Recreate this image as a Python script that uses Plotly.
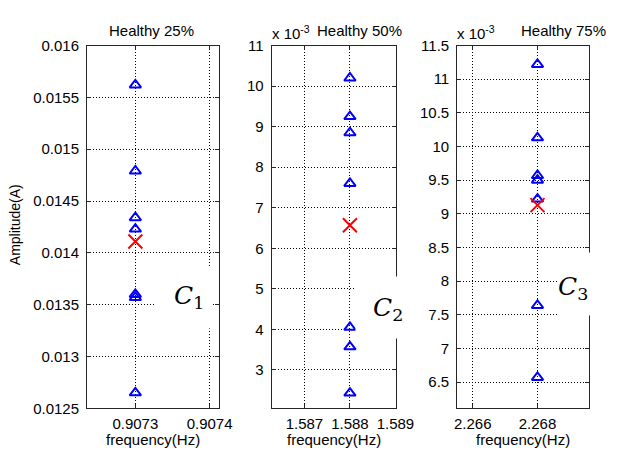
import plotly.graph_objects as go

W, H = 625, 453

# ---------------- data ----------------
panel_titles = ["Healthy 25%", "Healthy 50%", "Healthy 75%"]
freq = [0.9073, 1.588, 2.268]

amp25_tri = [0.01562, 0.01479, 0.01434, 0.01423, 0.01360, 0.01357, 0.01265]
amp25_x = [0.01411]
amp50_tri = [0.01020, 0.00925, 0.00885, 0.00760, 0.00405, 0.00357, 0.00243]
amp50_x = [0.00657]
amp75_tri = [0.01122, 0.01013, 0.00957, 0.00950, 0.00922, 0.00764, 0.00657]
amp75_x = [0.00913]

x1_ticks = [0.9073, 0.9074]
x1_labels = ["0.9073", "0.9074"]
x2_ticks = [1.587, 1.588, 1.589]
x2_labels = ["1.587", "1.588", "1.589"]
x3_ticks = [2.266, 2.268]
x3_labels = ["2.266", "2.268"]

y1_ticks = [0.0125, 0.013, 0.0135, 0.014, 0.0145, 0.015, 0.0155, 0.016]
y1_labels = ["0.0125", "0.013", "0.0135", "0.014", "0.0145", "0.015", "0.0155", "0.016"]
y2_ticks = [0.003, 0.004, 0.005, 0.006, 0.007, 0.008, 0.009, 0.010, 0.011]
y2_labels = ["3", "4", "5", "6", "7", "8", "9", "10", "11"]
y3_ticks = [0.0065, 0.007, 0.0075, 0.008, 0.0085, 0.009, 0.0095, 0.010, 0.0105, 0.011, 0.0115]
y3_labels = ["6.5", "7", "7.5", "8", "8.5", "9", "9.5", "10", "10.5", "11", "11.5"]

cluster_labels = ["1", "2", "3"]

# ---------------- layout helpers ----------------
def px_x(x):
    return x / W

def px_y(y):
    return 1 - y / H

FONT = "Liberation Sans, Arial, sans-serif"
FS = 15
AX = "#262626"
DOTS = "1px,2px"

panels = [
    dict(x0=87, x1=223, xr=[0.907235, 0.907412], yr=[0.0125, 0.016],
         xt=x1_ticks, xl=x1_labels, yt=y1_ticks, yl=y1_labels,
         tri=amp25_tri, cross=amp25_x, f=freq[0]),
    dict(x0=278, x1=407, xr=[1.58628, 1.58902], yr=[0.00205, 0.011],
         xt=x2_ticks, xl=x2_labels, yt=y2_ticks, yl=y2_labels,
         tri=amp50_tri, cross=amp50_x, f=freq[1]),
    dict(x0=470, x1=606, xr=[2.26552, 2.26958], yr=[0.00611, 0.0115],
         xt=x3_ticks, xl=x3_labels, yt=y3_ticks, yl=y3_labels,
         tri=amp75_tri, cross=amp75_x, f=freq[2]),
]
TOP, BOT = 38, 415

fig = go.Figure()
layout = dict(
    width=W, height=H, margin=dict(l=0, r=0, t=0, b=0),
    paper_bgcolor="white", plot_bgcolor="white", showlegend=False,
    font=dict(family=FONT, size=FS, color="black"),
)

for i, p in enumerate(panels):
    n = "" if i == 0 else str(i + 1)
    xa = "x" + n
    ya = "y" + n
    fig.add_trace(go.Scatter(
        x=[p["f"]] * len(p["tri"]), y=p["tri"], mode="markers",
        marker=dict(symbol="triangle-up-open", size=10, color="#0000ff",
                    line=dict(width=2, color="#0000ff")),
        xaxis=xa, yaxis=ya))
    fig.add_trace(go.Scatter(
        x=[p["f"]] * len(p["cross"]), y=p["cross"], mode="markers",
        marker=dict(symbol="x-thin-open", size=14, color="#ff0000",
                    line=dict(width=2, color="#ff0000")),
        xaxis=xa, yaxis=ya))
    common = dict(showline=True, linecolor=AX, linewidth=1, mirror="ticks",
                  ticks="inside", ticklen=4, tickcolor=AX, tickwidth=1,
                  showgrid=True, gridcolor="black", griddash=DOTS, gridwidth=1,
                  zeroline=False, tickfont=dict(family=FONT, size=FS, color="black"),
                  fixedrange=True)
    layout["xaxis" + n] = dict(domain=[px_x(p["x0"]), px_x(p["x1"])], range=p["xr"],
                               tickvals=p["xt"], ticktext=p["xl"], anchor=ya,
                               ticklabelstandoff=2, **common)
    layout["yaxis" + n] = dict(domain=[px_y(BOT), px_y(TOP)], range=p["yr"],
                               tickvals=p["yt"], ticktext=p["yl"], anchor=xa,
                               ticklabelstandoff=4, **common)

fig.update_layout(**layout)

ann = []
def text(x, y, s, size=FS, xanchor="center", yanchor="middle", **kw):
    d = dict(x=px_x(x), y=px_y(y), xref="paper", yref="paper", text=s,
             showarrow=False, xanchor=xanchor, yanchor=yanchor,
             font=dict(family=FONT, size=size, color="black"))
    d.update(kw)
    ann.append(d)

# titles
text(154, 22, panel_titles[0])
text(369, 22, panel_titles[1])
text(580, 22, panel_titles[2])
# exponent labels
text(276, 24, "x 10<sup>-3</sup>", xanchor="left")
text(468, 24, "x 10<sup>-3</sup>", xanchor="left")
# axis titles
for p in panels:
    text((p["x0"] + p["x1"]) / 2, 447, "frequency(Hz)", borderpad=0)
text(12, 224, "Amplitude(A)", size=14, textangle=-90)

# cluster label boxes (white background covering grid/axis)
boxes = [(158, 214, 270, 330, 192, 299),
         (366, 424, 280, 341, 398, 312),
         (575, 625, 255, 317, 590, 290)]
for k, (bx0, bx1, by0, by1, tx, ty) in enumerate(boxes):
    ann.append(dict(x=px_x((bx0 + bx1) / 2), y=px_y((by0 + by1) / 2),
                    xref="paper", yref="paper", text=" ", showarrow=False,
                    xanchor="center", yanchor="middle",
                    bgcolor="white", width=bx1 - bx0, height=by1 - by0, borderpad=0))
    ann.append(dict(x=px_x(tx), y=px_y(ty), xref="paper", yref="paper",
                    xanchor="center", yanchor="middle",
                    text="<i>C</i><sub>" + cluster_labels[k] + "</sub>", showarrow=False,
                    font=dict(family="DejaVu Serif, serif", size=25, color="black")))

fig.update_layout(annotations=ann)
fig.write_html("out.html", config={"displayModeBar": False},
               post_script="document.body.style.margin='0';")
